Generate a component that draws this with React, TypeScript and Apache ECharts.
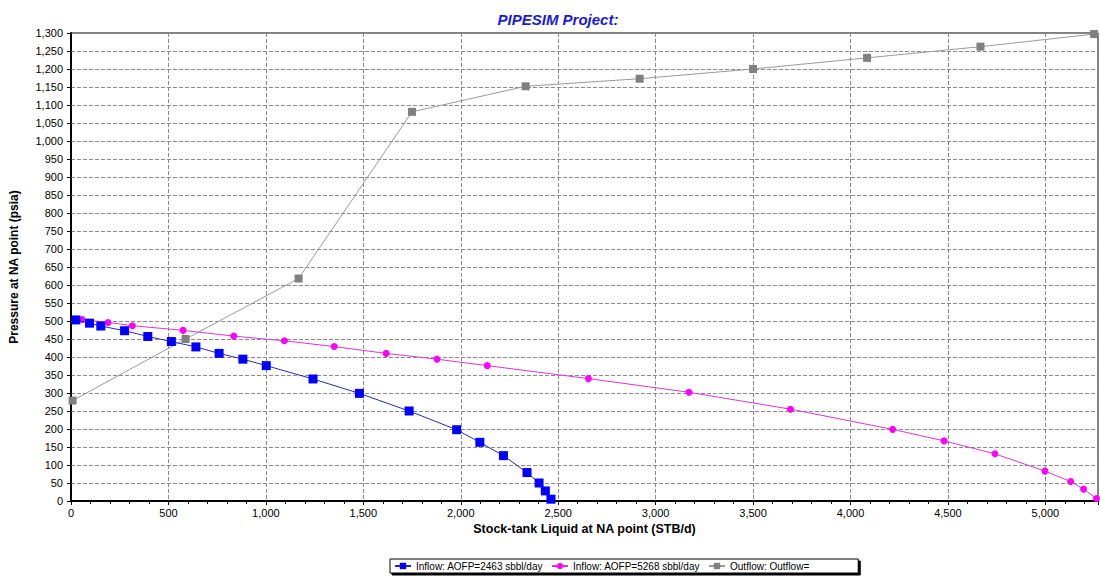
import React, { useEffect, useRef } from "react";
import * as echarts from "echarts";

const titleText = "PIPESIM Project:";
const xAxisName = "Stock-tank Liquid at NA point (STB/d)";
const yAxisName = "Pressure at NA point (psia)";

const blueName = "Inflow: AOFP=2463 sbbl/day";
const blueX = [25, 95, 153, 275, 394, 515, 641, 760, 882, 1002, 1242, 1480, 1735, 1979, 2098, 2219, 2340, 2402, 2434, 2463];
const blueY = [503, 494, 486, 473, 457, 443, 428, 410, 394, 376, 339, 299, 250, 198, 163, 126, 79, 50, 28, 5];

const magentaName = "Inflow: AOFP=5268 sbbl/day";
const magentaX = [57, 190, 315, 575, 835, 1095, 1351, 1617, 1878, 2136, 2655, 3171, 3692, 4216, 4480, 4741, 4998, 5130, 5196, 5262];
const magentaY = [504, 496, 487, 474, 458, 445, 429, 410, 394, 376, 340, 302, 255, 199, 167, 131, 83, 54, 33, 7];

const grayName = "Outflow: Outflow=";
const grayX = [8, 588, 1168, 1750, 2333, 2918, 3500, 4085, 4667, 5250];
const grayY = [279, 450, 618, 1081, 1152, 1173, 1200, 1231, 1262, 1297];

const xMin = 0;
const xMax = 5270;
const xInterval = 500;
const yMin = 0;
const yMax = 1300;
const yInterval = 50;

const pairs = (xs: number[], ys: number[]) => xs.map((x, i) => [x, ys[i]]);
const fmt = (v: number) => v.toLocaleString("en-US");

export default function App() {
  const ref = useRef<HTMLDivElement>(null);
  useEffect(() => {
    if (!ref.current) return;
    const chart = echarts.init(ref.current, null, { renderer: "svg" });
    const gridLine = { show: true, lineStyle: { color: "#8a8a8a", type: [4, 2] as any, width: 1 } };
    chart.setOption({
      animation: false,
      backgroundColor: "#ffffff",
      textStyle: { fontFamily: "Arial, 'Liberation Sans', sans-serif" },
      title: {
        text: titleText,
        left: 553,
        top: 7,
        textAlign: "center",
        textStyle: { fontSize: 15, fontStyle: "italic", fontWeight: "bold", color: "#1a1ad6", fontFamily: "Arial, 'Liberation Sans', sans-serif" },
      },
      grid: { left: 67, right: 2, top: 33, bottom: 75, show: true, borderColor: "#000", borderWidth: 1, backgroundColor: "transparent" },
      legend: {
        left: 390,
        top: 559,
        padding: [2, 49, 2, 4],
        itemGap: 8,
        itemWidth: 16,
        itemHeight: 8,
        backgroundColor: "#fff",
        borderColor: "#000",
        borderWidth: 1,
        borderRadius: 0,
        shadowColor: "#000",
        shadowBlur: 0,
        shadowOffsetX: 2,
        shadowOffsetY: 2,
        textStyle: { fontSize: 10, color: "#000" },
        data: [blueName, magentaName, grayName],
      },
      xAxis: {
        type: "value",
        min: xMin,
        max: xMax,
        interval: xInterval,
        name: xAxisName,
        nameLocation: "middle",
        nameGap: 21,
        nameTextStyle: { fontSize: 12.5, fontWeight: "bold", color: "#000", fontFamily: "Arial, 'Liberation Sans', sans-serif" },
        axisLine: { show: true, onZero: false, lineStyle: { color: "#000", width: 2 } },
        axisTick: { show: true, inside: false, length: 4, lineStyle: { color: "#000" } },
        minorTick: { show: true, splitNumber: 5, length: 3, lineStyle: { color: "#000" } },
        axisLabel: { fontSize: 11, color: "#000", margin: 6, formatter: (v: number) => fmt(v), showMaxLabel: false },
        splitLine: gridLine,
      },
      yAxis: {
        type: "value",
        min: yMin,
        max: yMax,
        interval: yInterval,
        name: yAxisName,
        nameLocation: "middle",
        nameGap: 51,
        nameTextStyle: { fontSize: 12, fontWeight: "bold", color: "#000", fontFamily: "Arial, 'Liberation Sans', sans-serif" },
        axisLine: { show: true, onZero: false, lineStyle: { color: "#000", width: 2 } },
        axisTick: { show: true, inside: false, length: 4, lineStyle: { color: "#000" } },
        axisLabel: { fontSize: 11, color: "#000", margin: 8, formatter: (v: number) => fmt(v) },
        splitLine: gridLine,
      },
      series: [
        {
          name: blueName,
          type: "line",
          data: pairs(blueX, blueY),
          symbol: "rect",
          symbolSize: 9,
          clip: false,
          itemStyle: { color: "#0000ff" },
          lineStyle: { color: "#2a2ab0", width: 1 },
          z: 4,
        },
        {
          name: magentaName,
          type: "line",
          data: pairs(magentaX, magentaY),
          symbol: "circle",
          symbolSize: 7,
          clip: false,
          itemStyle: { color: "#ff00ff" },
          lineStyle: { color: "#d838d8", width: 1 },
          z: 3,
        },
        {
          name: grayName,
          type: "line",
          data: pairs(grayX, grayY),
          symbol: "rect",
          symbolSize: 8,
          clip: false,
          itemStyle: { color: "#808080" },
          lineStyle: { color: "#9a9a9a", width: 1 },
          z: 2,
        },
      ],
    });
    return () => chart.dispose();
  }, []);
  return (
    <div style={{ position: "fixed", left: 0, top: 0, width: 1100, height: 576, background: "#fff" }}>
      <div ref={ref} style={{ width: 1100, height: 576 }} />
    </div>
  );
}
